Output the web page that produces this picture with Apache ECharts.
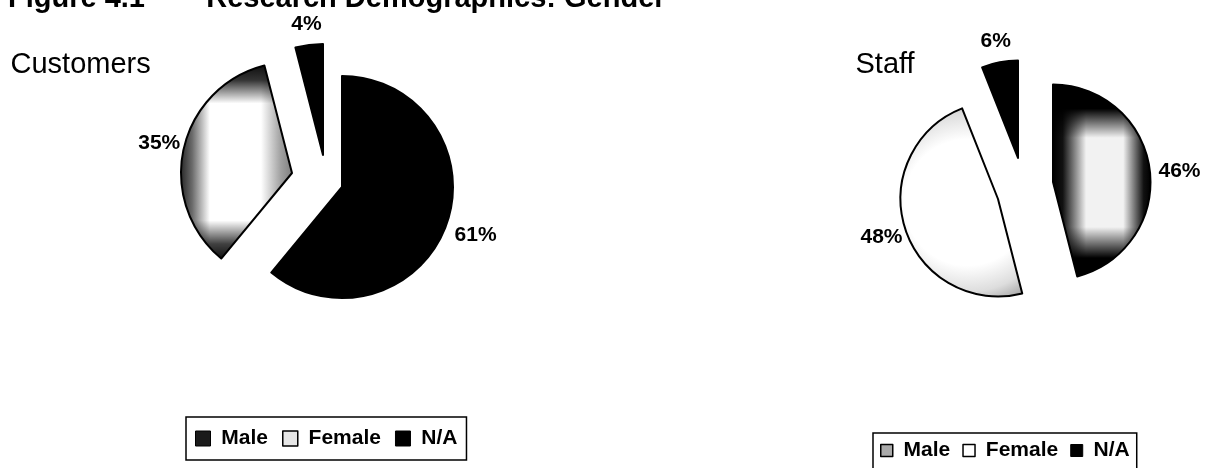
<!DOCTYPE html>
<html><head><meta charset="utf-8">
<script src="https://cdn.jsdelivr.net/npm/echarts@6/dist/echarts.min.js"></script>
<style>html,body{margin:0;padding:0;background:#fff}#c{width:1211px;height:468px}</style>
</head><body><div id="c"></div>
<script>
// ---- data ----
const categories = ['Male', 'Female', 'N/A'];
const customersValues = [61, 35, 4];
const staffValues = [46, 48, 6];
const pieTitles = ['Customers', 'Staff'];
const figureTitle = 'Figure 4.1  \u2014  Research Demographics: Gender';

// ---- style helpers ----
const FONT = '"Liberation Sans", Arial, Helvetica, sans-serif';
const stopsOf = s => s.map(([offset, color]) => ({ offset, color }));
const lin = (x, y, x2, y2, s) => ({ type: 'linear', x, y, x2, y2, colorStops: stopsOf(s) });
const rad = (x, y, r, s) => ({ type: 'radial', x, y, r, colorStops: stopsOf(s) });

// left pie fills (layers per slice)
const leftFills = [
  ['#000'],
  [
    lin(0, 0, 1, 0, [[0, '#2a2a2a'], [0.1, '#6a6a6a'], [0.26, '#fff'], [0.72, '#fff'], [0.9, '#a0a0a0'], [1, '#808080']]),
    lin(0, 0, 0, 1, [[0, 'rgba(0,0,0,0.95)'], [0.08, 'rgba(0,0,0,0.8)'], [0.2, 'rgba(0,0,0,0)'], [0.8, 'rgba(0,0,0,0)'], [0.92, 'rgba(0,0,0,0.75)'], [1, 'rgba(0,0,0,0.95)']])
  ],
  ['#000']
];
const rightFills = [
  [
    lin(0, 0, 1, 0, [[0, '#000'], [0.1, '#111'], [0.34, '#f2f2f2'], [0.72, '#f2f2f2'], [0.93, '#111'], [1, '#000']]),
    lin(0, 0, 0, 1, [[0, 'rgba(0,0,0,1)'], [0.13, 'rgba(0,0,0,1)'], [0.28, 'rgba(0,0,0,0)'], [0.74, 'rgba(0,0,0,0)'], [0.9, 'rgba(0,0,0,1)'], [1, 'rgba(0,0,0,1)']])
  ],
  [rad(0.55, 0.5, 0.85, [[0, '#fff'], [0.6, '#fff'], [0.85, '#ddd'], [1, '#aaa']])],
  ['#000']
];

const pies = [
  { values: customersValues, radius: 111,
    centers: [[342, 187], [292, 173], [323, 155]],
    labelLen: [31, 25, 21], labelDy: [0, 0, 0], fills: leftFills },
  { values: staffValues, radius: 97.5,
    centers: [[1053, 182], [998, 199], [1018, 158]],
    labelLen: [30, 25, 21], labelDy: [5, 0, 0], fills: rightFills }
];

const series = [];
pies.forEach(p => {
  categories.forEach((cat, k) => {
    const layers = p.fills[k];
    layers.forEach((fill, li) => {
      const first = li === 0, last = li === layers.length - 1;
      series.push({
        type: 'pie', silent: true, animation: false,
        center: p.centers[k], radius: p.radius,
        startAngle: 90, clockwise: true, avoidLabelOverlap: false, minAngle: 0,
        emphasis: { disabled: true },
        labelLine: { show: false, length: p.labelLen[k], length2: 0 },
        labelLayout: first ? () => ({ align: 'center', verticalAlign: 'middle', dy: p.labelDy[k] }) : undefined,
        data: categories.map((name, i) => ({
          name, value: p.values[i],
          itemStyle: i === k
            ? { color: fill, borderColor: '#000', borderWidth: last ? 2 : 0 }
            : { color: 'transparent', borderWidth: 0 },
          label: (i === k && first)
            ? { show: true, position: 'outside', distanceToLabelLine: 0, formatter: '{c}%',
                fontFamily: FONT, fontSize: 21, fontWeight: 'bold', color: '#000' }
            : { show: false }
        }))
      });
    });
  });
});

const legendIcons = [
  [{ color: '#1a1a1a', borderColor: '#000', borderWidth: 1 },
   { color: '#e6e6e6', borderColor: '#000', borderWidth: 1.5 },
   { color: '#000', borderColor: '#000', borderWidth: 1 }],
  [{ color: '#aaa', borderColor: '#000', borderWidth: 1.5 },
   { color: '#fff', borderColor: '#000', borderWidth: 1.5 },
   { color: '#000', borderColor: '#000', borderWidth: 1 }]
];
const legendText = { fontFamily: FONT, fontSize: 21, fontWeight: 'bold', color: '#000' };

const option = {
  backgroundColor: '#fff',
  animation: false,
  graphic: [
    { type: 'text', x: 8, y: -1, style: { text: figureTitle, font: 'bold 29px ' + FONT, fill: '#000', verticalAlign: 'middle' } },
    { type: 'text', x: 10.5, y: 65, style: { text: pieTitles[0], font: '29px ' + FONT, fill: '#000', verticalAlign: 'middle' } },
    { type: 'text', x: 855.5, y: 65, style: { text: pieTitles[1], font: '29px ' + FONT, fill: '#000', verticalAlign: 'middle' } }
  ],
  legend: [
    { left: 186, top: 417, padding: [11, 9, 11, 9], borderColor: '#000', borderWidth: 1.5,
      itemWidth: 15, itemHeight: 15, itemGap: 14, selectedMode: false,
      formatter: n => ' ' + n, textStyle: legendText,
      data: categories.map((n, i) => ({ name: n, icon: 'rect', itemStyle: legendIcons[0][i] })) },
    { left: 873, top: 433, padding: [7, 7, 15, 7], borderColor: '#000', borderWidth: 1.5,
      itemWidth: 12, itemHeight: 12, itemGap: 12, selectedMode: false,
      formatter: n => ' ' + n, textStyle: legendText,
      data: categories.map((n, i) => ({ name: n, icon: 'rect', itemStyle: legendIcons[1][i] })) }
  ],
  series
};

const chart = echarts.init(document.getElementById('c'), null, { renderer: 'canvas' });
chart.setOption(option);
</script>
</body></html>
